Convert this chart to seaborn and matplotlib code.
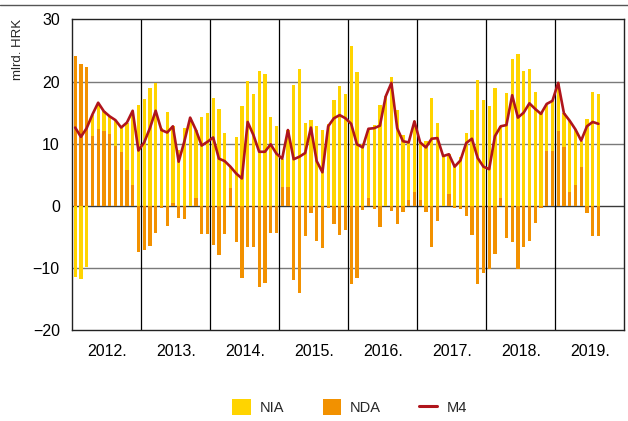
import numpy as np
import pandas as pd
import matplotlib
matplotlib.use("Agg")
import matplotlib.pyplot as plt
from matplotlib.patches import Patch
from matplotlib.lines import Line2D
import seaborn as sns

# Monthly contributions to M4 growth, Jan 2012 - Aug 2019 (billion HRK)
years = ["2012.", "2013.", "2014.", "2015.", "2016.", "2017.", "2018.", "2019."]

nia = [-11.4, -11.8, -9.8, 3.5, 4.2, 3.1, 2.9, 4.2, 4.0, 7.7, 11.9, 16.3,
       17.2, 18.9, 19.7, 12.5, 15.1, 12.4, 9.0, 12.5, 14.2, 10.9, 14.3, 14.9,
       17.3, 15.6, 11.8, 3.5, 11.0, 16.0, 20.1, 18.0, 21.7, 21.2, 14.3, 12.8,
       4.6, 9.1, 19.4, 22.0, 13.4, 13.8, 12.8, 12.2, 13.1, 17.0, 19.3, 18.0,
       25.8, 21.6, 10.0, 11.2, 13.0, 16.3, 17.6, 20.7, 15.5, 11.4, 9.2, 11.4,
       9.3, 10.4, 17.4, 13.4, 8.0, 6.4, 6.6, 7.8, 11.8, 15.5, 20.3, 17.1,
       16.0, 18.9, 11.5, 18.2, 23.7, 24.4, 21.7, 22.1, 18.4, 15.1, 7.5, 8.1,
       7.8, 5.5, 11.5, 9.0, 4.3, 14.0, 18.4, 18.0]

nda = [24.1, 22.9, 22.4, 11.2, 12.4, 12.1, 11.5, 9.6, 8.6, 5.7, 3.4, -7.4,
       -7.1, -6.4, -4.4, -0.3, -3.3, 0.4, -1.9, -2.1, 0.0, 1.3, -4.6, -4.6,
       -6.3, -8.0, -4.6, 2.8, -5.8, -11.6, -6.6, -6.6, -13.0, -12.5, -4.4, -4.4,
       3.0, 3.1, -11.9, -14.1, -4.9, -1.2, -5.6, -6.8, -0.3, -2.9, -4.7, -3.9,
       -12.6, -11.7, -0.6, 1.2, -0.5, -3.4, 0.0, -0.9, -3.0, -1.0, 1.0, 2.2,
       0.9, -1.0, -6.6, -2.5, 0.0, 1.9, -0.3, -0.5, -1.7, -4.7, -12.6, -10.8,
       -10.1, -7.7, 1.3, -5.2, -5.9, -10.2, -6.7, -5.6, -2.8, -0.3, 8.9, 8.8,
       12.0, 9.4, 2.2, 3.3, 6.2, -1.2, -4.9, -4.8]

m4 = [12.6, 11.1, 12.5, 14.7, 16.6, 15.2, 14.4, 13.8, 12.6, 13.4, 15.3, 8.9,
      10.2, 12.5, 15.3, 12.2, 11.8, 12.8, 7.1, 10.4, 14.2, 12.2, 9.7, 10.3,
      11.0, 7.6, 7.2, 6.3, 5.2, 4.4, 13.5, 11.4, 8.7, 8.7, 9.9, 8.4,
      7.6, 12.2, 7.5, 7.9, 8.5, 12.6, 7.2, 5.4, 12.8, 14.1, 14.6, 14.1,
      13.2, 9.9, 9.4, 12.4, 12.5, 12.9, 17.6, 19.8, 12.5, 10.4, 10.2, 13.6,
      10.2, 9.4, 10.8, 10.9, 8.0, 8.3, 6.3, 7.3, 10.1, 10.8, 7.7, 6.3,
      5.9, 11.2, 12.8, 13.0, 17.8, 14.2, 15.0, 16.5, 15.6, 14.8, 16.4, 16.9,
      19.8, 14.9, 13.7, 12.3, 10.5, 12.8, 13.5, 13.2]

C_NIA = "#FFD400"
C_NDA = "#F29100"
C_M4 = "#B0151C"

df = pd.DataFrame({"month": np.arange(len(m4)), "NIA": nia, "NDA": nda, "M4": m4})

sns.set_style("white")
plt.rcParams["font.family"] = ["Liberation Sans", "DejaVu Sans"]

fig = plt.figure(figsize=(6.28, 4.21), dpi=100)
ax = fig.add_axes([0.1151, 0.2162, 0.879, 0.7375])

# horizontal grid
for yv in (-10, 10, 20):
    ax.axhline(yv, color="#7a7a7a", lw=1.0, zorder=0)
ax.axhline(0, color="#3a3a3a", lw=1.0, zorder=0)

# year separators
for k in range(1, len(years)):
    ax.axvline(12 * k - 0.5, color="black", lw=0.9, zorder=0.5)

# stacked bars: NDA from zero, NIA stacked on NDA when of the same sign
x = df["month"].to_numpy()
nda_v = df["NDA"].to_numpy()
nia_v = df["NIA"].to_numpy()
nia_bottom = np.where(np.sign(nia_v) == np.sign(nda_v), nda_v, 0.0)
ax.bar(x, nda_v, width=0.56, color=C_NDA, linewidth=0, zorder=2)
ax.bar(x, nia_v, bottom=nia_bottom, width=0.56, color=C_NIA, linewidth=0, zorder=2)

sns.lineplot(data=df, x="month", y="M4", color=C_M4, lw=1.9, ax=ax, zorder=3)

ax.set_xlim(-0.5, 12 * len(years) - 0.5)
ax.set_ylim(-20, 30)
ax.set_yticks([-20, -10, 0, 10, 20, 30])
ax.set_xticks([12 * k + 5.5 for k in range(len(years))])
ax.set_xticklabels(years)
ax.tick_params(axis="both", length=0, labelsize=11.5, colors="black")
ax.tick_params(axis="x", pad=10)
ax.tick_params(axis="y", pad=9)
ax.set_xlabel("")
ax.set_ylabel("")
for s in ax.spines.values():
    s.set_visible(True)
    s.set_color("#222222")
    s.set_linewidth(1.0)

fig.text(0.028, 0.955, "mlrd. HRK", rotation=90, ha="center", va="top", fontsize=9.5)

# rule across the top of the figure
fig.add_artist(Line2D([0, 1], [0.989, 0.989], transform=fig.transFigure, color="#555555", lw=1.0))

handles = [Patch(facecolor=C_NIA, edgecolor="none"),
           Patch(facecolor=C_NDA, edgecolor="none"),
           Line2D([0], [0], color=C_M4, lw=2.2)]
fig.legend(handles, ["NIA", "NDA", "M4"], loc="center", bbox_to_anchor=(0.557, 0.033),
           ncol=3, frameon=False, fontsize=10.5, handlelength=1.25, handleheight=1.25,
           columnspacing=2.6, handletextpad=0.65)

fig.savefig("out.png", dpi=100)
